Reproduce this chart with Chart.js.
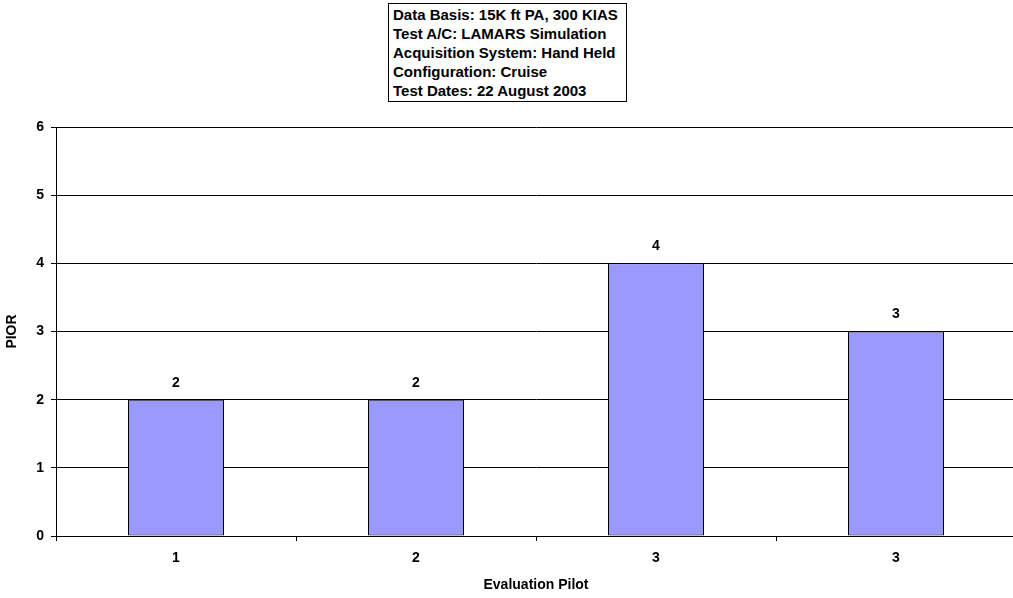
<!DOCTYPE html>
<html lang="en">
<head>
    <meta charset="UTF-8">
    <title>PIOR by Evaluation Pilot</title>
    <script src="https://cdn.jsdelivr.net/npm/chart.js"></script>
    <style>
        body {
            margin: 0;
            background: #fff;
        }
        #wrap {
            position: relative;
            width: 1013px;
            height: 598px;
            overflow: hidden;
        }
        #info {
            position: absolute;
            left: 388px;
            top: 3px;
            width: 233px;
            padding: 1px 0 1px 4px;
            border: 1px solid #000;
            font: bold 15px "Liberation Sans", Arial, sans-serif;
            line-height: 19px;
            color: #000;
            background: #fff;
            white-space: nowrap;
        }
    </style>
</head>
<body>
    <div id="wrap">
        <canvas id="chart" width="1016" height="598"></canvas>
        <div id="info">
            Data Basis: 15K ft PA, 300 KIAS<br>
            Test A/C: LAMARS Simulation<br>
            Acquisition System: Hand Held<br>
            Configuration: Cruise<br>
            Test Dates: 22 August 2003
        </div>
    </div>

    <script>
        var pilots = ['1', '2', '3', '3'];
        var pior = [2, 2, 4, 3];
        var yTicks = [0, 1, 2, 3, 4, 5, 6];

        var font = { family: '"Liberation Sans", Arial, sans-serif', size: 14, weight: 'bold' };

        // value labels above each bar
        var valueLabels = {
            id: 'valueLabels',
            afterDatasetsDraw: function (chart) {
                var ctx = chart.ctx;
                var meta = chart.getDatasetMeta(0);
                ctx.save();
                ctx.font = 'bold 14px "Liberation Sans", Arial, sans-serif';
                ctx.fillStyle = '#000';
                ctx.textAlign = 'center';
                ctx.textBaseline = 'middle';
                meta.data.forEach(function (bar, i) {
                    ctx.fillText(String(pior[i]), bar.x, bar.y - 17);
                });
                ctx.restore();
            }
        };

        var ctx = document.getElementById('chart').getContext('2d');
        var chart = new Chart(ctx, {
            type: 'bar',
            data: {
                labels: pilots,
                datasets: [{
                    data: pior,
                    backgroundColor: '#9999FF',
                    borderColor: '#000',
                    borderWidth: 1,
                    borderSkipped: false,
                    barPercentage: 0.4,
                    categoryPercentage: 1
                }]
            },
            options: {
                responsive: false,
                animation: false,
                layout: { padding: { top: 127, right: 0, left: 0, bottom: 0 } },
                plugins: {
                    legend: { display: false },
                    tooltip: { enabled: false }
                },
                scales: {
                    x: {
                        grid: {
                            offset: true,
                            drawOnChartArea: false,
                            color: '#000',
                            tickLength: 5
                        },
                        border: { color: '#000' },
                        ticks: { color: '#000', font: font, padding: 9 },
                        title: {
                            display: true,
                            text: 'Evaluation Pilot',
                            color: '#000',
                            font: font,
                            padding: { top: 6 }
                        },
                        afterFit: function (scale) { scale.height = 62; }
                    },
                    y: {
                        min: 0,
                        max: 6,
                        afterBuildTicks: function (scale) {
                            scale.ticks = yTicks.map(function (v) { return { value: v }; });
                        },
                        grid: { color: '#000', tickLength: 5 },
                        border: { color: '#000' },
                        ticks: { color: '#000', font: font, padding: 7 },
                        title: {
                            display: true,
                            text: 'PIOR',
                            color: '#000',
                            font: font,
                            padding: { bottom: 0 }
                        },
                        afterFit: function (scale) { scale.width = 56; }
                    }
                }
            },
            plugins: [valueLabels]
        });
    </script>
</body>
</html>
